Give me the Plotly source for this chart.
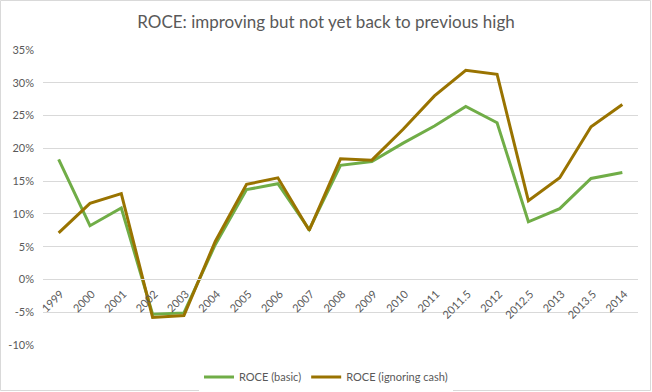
import plotly.graph_objects as go

periods = ["1999", "2000", "2001", "2002", "2003", "2004", "2005", "2006", "2007", "2008",
           "2009", "2010", "2011", "2011.5", "2012", "2012.5", "2013", "2013.5", "2014"]
roce_basic = [18.3, 8.2, 10.9, -5.3, -5.1, 5.3, 13.7, 14.6, 7.6, 17.4,
              18.0, 20.8, 23.4, 26.4, 23.9, 8.8, 10.8, 15.4, 16.3]
roce_ignoring_cash = [7.1, 11.6, 13.1, -5.8, -5.5, 5.8, 14.5, 15.5, 7.5, 18.4,
                      18.2, 22.9, 28.0, 31.9, 31.3, 12.0, 15.5, 23.3, 26.7]
y_ticks = [-10, -5, 0, 5, 10, 15, 20, 25, 30, 35]
y_tick_labels = [f"{t}%" for t in y_ticks]

W, H = 652, 392
L, R, T, B = 43, 14, 50, 47
font = "Lato, Open Sans, sans-serif"
grey = "#595959"

fig = go.Figure()
fig.add_trace(go.Scatter(x=periods, y=roce_basic, mode="lines", name="ROCE (basic)",
                         line=dict(color="#70AD47", width=3)))
fig.add_trace(go.Scatter(x=periods, y=roce_ignoring_cash, mode="lines", name="ROCE (ignoring cash)",
                         line=dict(color="#997300", width=3)))

ymin, ymax = -10, 35
zero_pos = (0 - ymin) / (ymax - ymin)

pw = W - L - R
ph = H - T - B
fig.update_layout(
    width=W, height=H,
    margin=dict(l=L, r=R, t=T, b=B, autoexpand=False),
    paper_bgcolor="white", plot_bgcolor="white",
    title=dict(text="ROCE: improving but not yet back to previous high", x=0.5, xanchor="center",
               xref="container", y=1 - 22 / H, yanchor="middle", font=dict(family=font, size=17, color=grey)),
    font=dict(family=font, color=grey, size=11),
    xaxis=dict(type="category", anchor="free", position=zero_pos, tickangle=-45,
               showgrid=False, showline=True, linecolor="#D9D9D9", linewidth=1,
               ticks="", ticklabelstandoff=3, ticklabelshift=2, tickfont=dict(size=11, color=grey),
               range=[-0.5, len(periods) - 0.5]),
    yaxis=dict(range=[ymin, ymax], tickvals=y_ticks, ticktext=y_tick_labels,
               showgrid=True, gridcolor="#D9D9D9", gridwidth=1, zeroline=False,
               showline=False, ticks="", ticklabelstandoff=8, tickfont=dict(size=11, color=grey)),
    legend=dict(orientation="h", xref="container", x=0.5, xanchor="center",
                yref="container", y=1 - 377 / H, yanchor="middle",
                font=dict(size=11, color=grey), itemwidth=30),
    showlegend=True,
    shapes=[dict(type="rect", xref="paper", yref="paper",
                 x0=(0.5 - L) / pw, x1=(W - 1.5 - L) / pw,
                 y0=-(H - 1.5 - T - ph) / ph,
                 y1=1 + (T - 0.5) / ph,
                 line=dict(color="#D9D9D9", width=1), layer="below")],
)
fig.write_html("out.html", config={"displayModeBar": False},
               post_script="document.body.style.margin='0';")
